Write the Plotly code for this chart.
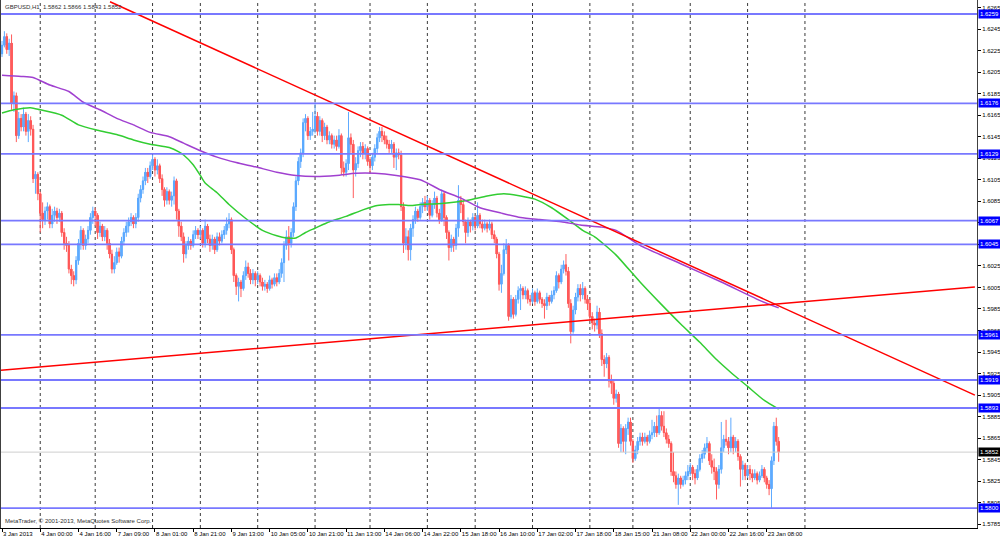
import plotly.graph_objects as go

# GBPUSD H1, 3 Jan 2013 08:00 -> 23 Jan 2013 09:00 (bar index 0..325)
# prices are stored in pips, 16230 -> 1.6230

first_open = 16222

close_pips = [
    16230, 16238, 16226, 16232, 16176, 16183, 16146, 16162, 16154, 16166,
    16150, 16160, 16152, 16106, 16110, 16092, 16074, 16068, 16076, 16080,
    16064, 16072, 16076, 16070, 16074, 16056, 16046, 16044, 16022, 16016,
    16012, 16030, 16046, 16058, 16044, 16050, 16058, 16070, 16076, 16072,
    16056, 16062, 16052, 16058, 16046, 16036, 16022, 16028, 16038, 16034,
    16048, 16056, 16062, 16066, 16070, 16064, 16070, 16088, 16096, 16104,
    16112, 16108, 16118, 16124, 16114, 16118, 16106, 16096, 16086, 16094,
    16086, 16090, 16104, 16076, 16062, 16052, 16036, 16044, 16048, 16044,
    16054, 16058, 16054, 16058, 16046, 16062, 16050, 16044, 16050, 16040,
    16052, 16048, 16054, 16058, 16064, 16068, 16040, 16016, 16006, 16010,
    16004, 16016, 16024, 16018, 16012, 16018, 16012, 16016, 16010, 16006,
    16008, 16004, 16012, 16008, 16014, 16010, 16018, 16028, 16044, 16052,
    16046, 16056, 16080, 16104, 16122, 16130, 16158, 16162, 16146, 16150,
    16152, 16164, 16150, 16160, 16146, 16154, 16142, 16146, 16138, 16142,
    16136, 16146, 16116, 16112, 16120, 16144, 16138, 16114, 16120, 16132,
    16136, 16130, 16134, 16122, 16118, 16126, 16134, 16144, 16150, 16146,
    16142, 16138, 16134, 16138, 16126, 16130, 16128, 16080, 16046, 16052,
    16040, 16060, 16068, 16076, 16070, 16080, 16084, 16080, 16086, 16072,
    16082, 16088, 16074, 16068, 16092, 16070, 16056, 16042, 16050, 16044,
    16060, 16086, 16082, 16066, 16056, 16066, 16062, 16070, 16062, 16072,
    16064, 16060, 16064, 16060, 16064, 16054, 16050, 16036, 16008, 16018,
    16040, 16044, 15978, 15994, 15980, 15994, 16002, 16004, 15998, 16002,
    15994, 15992, 16000, 15992, 16000, 15994, 15990, 15988, 15996, 15992,
    15998, 16002, 16016, 16010, 16022, 16026, 16020, 15990, 15964, 15984,
    15996, 16004, 15998, 16004, 15994, 15990, 15978, 15972, 15970, 15982,
    15962, 15938, 15934, 15940, 15918, 15916, 15902, 15906, 15860, 15874,
    15862, 15874, 15880, 15862, 15846, 15854, 15862, 15866, 15862, 15866,
    15862, 15868, 15870, 15876, 15870, 15886, 15876, 15870, 15864, 15860,
    15834, 15830, 15822, 15828, 15822, 15826, 15830, 15834, 15838, 15832,
    15828, 15836, 15846, 15850, 15856, 15860, 15844, 15838, 15834, 15822,
    15836, 15856, 15864, 15862, 15856, 15866, 15856, 15862, 15848, 15836,
    15840, 15830, 15836, 15832, 15828, 15832, 15826, 15830, 15836, 15828,
    15822, 15818, 15844, 15876, 15862, 15852,
]

high_pips = [
    16234, 16243, 16241, 16236, 16240, 16187, 16186, 16168, 16166, 16172,
    16168, 16166, 16164, 16156, 16113, 16112, 16094, 16084, 16080, 16084,
    16082, 16078, 16080, 16079, 16078, 16076, 16060, 16052, 16048, 16026,
    16020, 16034, 16050, 16062, 16060, 16054, 16062, 16074, 16080, 16079,
    16074, 16066, 16064, 16062, 16060, 16050, 16040, 16034, 16042, 16042,
    16052, 16060, 16066, 16070, 16074, 16072, 16074, 16092, 16100, 16108,
    16116, 16116, 16122, 16128, 16126, 16124, 16120, 16110, 16098, 16098,
    16096, 16094, 16108, 16106, 16078, 16066, 16056, 16048, 16052, 16050,
    16058, 16062, 16060, 16062, 16060, 16068, 16064, 16054, 16054, 16052,
    16056, 16056, 16058, 16062, 16070, 16074, 16070, 16042, 16018, 16014,
    16012, 16020, 16030, 16028, 16022, 16022, 16020, 16020, 16018, 16014,
    16012, 16010, 16016, 16014, 16018, 16018, 16022, 16032, 16048, 16058,
    16062, 16060, 16084, 16108, 16126, 16134, 16162, 16166, 16164, 16154,
    16168, 16177, 16168, 16164, 16162, 16158, 16156, 16150, 16148, 16146,
    16146, 16152, 16148, 16122, 16124, 16168, 16148, 16142, 16126, 16136,
    16140, 16140, 16138, 16136, 16126, 16130, 16138, 16148, 16154, 16154,
    16150, 16146, 16142, 16142, 16140, 16134, 16134, 16132, 16084, 16060,
    16058, 16064, 16072, 16080, 16078, 16084, 16088, 16090, 16090, 16088,
    16086, 16094, 16090, 16078, 16096, 16094, 16072, 16058, 16054, 16052,
    16064, 16100, 16090, 16086, 16068, 16070, 16068, 16074, 16072, 16084,
    16074, 16068, 16068, 16066, 16068, 16066, 16058, 16052, 16038, 16026,
    16046, 16050, 16046, 15998, 15996, 15998, 16006, 16008, 16006, 16006,
    16004, 15998, 16004, 16002, 16004, 16002, 15996, 15994, 16000, 15998,
    16002, 16006, 16020, 16018, 16026, 16030, 16036, 16024, 15994, 15988,
    16000, 16008, 16008, 16010, 16006, 15998, 15994, 15982, 15976, 15988,
    15986, 15966, 15942, 15944, 15942, 15924, 15918, 15910, 15908, 15878,
    15876, 15878, 15884, 15884, 15864, 15858, 15866, 15870, 15870, 15870,
    15868, 15872, 15882, 15880, 15886, 15892, 15890, 15890, 15874, 15868,
    15862, 15852, 15834, 15832, 15830, 15830, 15834, 15840, 15842, 15840,
    15836, 15840, 15850, 15854, 15860, 15866, 15862, 15850, 15846, 15838,
    15840, 15880, 15868, 15882, 15866, 15884, 15868, 15866, 15864, 15850,
    15844, 15842, 15840, 15840, 15836, 15836, 15834, 15834, 15840, 15838,
    15830, 15826, 15848, 15880, 15884, 15866,
]

low_pips = [
    16219, 16228, 16222, 16220, 16170, 16168, 16140, 16143, 16150, 16150,
    16146, 16140, 16146, 16102, 16092, 16086, 16056, 16060, 16063, 16068,
    16060, 16060, 16066, 16064, 16066, 16052, 16040, 16038, 16018, 16008,
    16006, 16008, 16026, 16040, 16040, 16040, 16046, 16054, 16064, 16062,
    16050, 16052, 16048, 16048, 16040, 16032, 16018, 16018, 16026, 16028,
    16032, 16044, 16052, 16056, 16062, 16060, 16060, 16066, 16084, 16092,
    16100, 16102, 16106, 16114, 16108, 16110, 16102, 16090, 16080, 16082,
    16082, 16080, 16082, 16068, 16052, 16048, 16028, 16032, 16040, 16040,
    16042, 16050, 16050, 16050, 16042, 16042, 16046, 16038, 16040, 16036,
    16038, 16044, 16046, 16050, 16054, 16060, 16036, 16010, 15998, 15992,
    15996, 16002, 16012, 16014, 16008, 16008, 16006, 16008, 16006, 16002,
    16002, 16000, 16002, 16004, 16006, 16006, 16008, 16014, 16010, 16040,
    16030, 16042, 16052, 16076, 16100, 16116, 16126, 16150, 16142, 16142,
    16146, 16148, 16146, 16146, 16140, 16142, 16138, 16138, 16134, 16134,
    16132, 16134, 16110, 16108, 16108, 16114, 16130, 16088, 16108, 16116,
    16126, 16124, 16124, 16118, 16112, 16114, 16122, 16130, 16140, 16140,
    16138, 16134, 16130, 16130, 16116, 16114, 16124, 16076, 16037, 16040,
    16030, 16030, 16052, 16064, 16066, 16068, 16074, 16076, 16076, 16068,
    16070, 16078, 16070, 16064, 16066, 16062, 16050, 16030, 16038, 16038,
    16040, 16052, 16074, 16062, 16046, 16052, 16056, 16058, 16058, 16060,
    16060, 16056, 16058, 16056, 16058, 16050, 16046, 16032, 16002, 16000,
    16016, 16036, 15974, 15976, 15976, 15978, 15990, 15984, 15994, 15994,
    15990, 15988, 15990, 15988, 15990, 15990, 15986, 15976, 15984, 15988,
    15990, 15994, 16000, 16004, 16008, 16018, 16016, 15986, 15953, 15962,
    15980, 15992, 15992, 15994, 15990, 15984, 15974, 15966, 15964, 15966,
    15958, 15932, 15922, 15930, 15912, 15906, 15896, 15898, 15856, 15852,
    15852, 15850, 15868, 15858, 15842, 15844, 15850, 15858, 15858, 15860,
    15858, 15860, 15864, 15866, 15866, 15868, 15872, 15866, 15860, 15856,
    15830, 15824, 15818, 15803, 15818, 15820, 15822, 15826, 15830, 15826,
    15822, 15826, 15834, 15842, 15846, 15852, 15840, 15832, 15826, 15808,
    15818, 15832, 15852, 15858, 15850, 15852, 15850, 15852, 15844, 15820,
    15826, 15826, 15828, 15826, 15824, 15826, 15822, 15824, 15828, 15824,
    15818, 15812, 15800, 15840, 15858, 15843,
]

# moving averages (bar index, pips)
slow_ma_bars = [0, 8, 13, 20, 28, 34, 41, 48, 55, 62, 70, 76, 83, 90, 98, 106,
                115, 123, 131, 140, 148, 156, 165, 175, 184, 192, 200, 209,
                217, 225, 234, 242, 251, 257, 267, 284, 301, 318, 325]
slow_ma_pips = [16202, 16201, 16200, 16193, 16187, 16177, 16170, 16162, 16156,
                16149, 16145, 16139, 16132, 16126, 16121, 16117, 16112, 16109,
                16108, 16109, 16111, 16111, 16109, 16105, 16095, 16088, 16079,
                16074, 16070, 16068, 16066, 16063, 16061, 16058, 16044, 16027,
                16010, 15992, 15986]

fast_ma_bars = [0, 5, 12, 16, 25, 32, 40, 48, 55, 62, 70, 74, 76, 80, 83, 85,
                90, 95, 102, 109, 115, 119, 123, 127, 131, 137, 144, 151, 157,
                162, 166, 171, 175, 184, 195, 203, 210, 217, 223, 230, 237, 243,
                248, 253, 257, 267, 276, 284, 292, 299, 305, 312, 319, 325]
fast_ma_pips = [16167, 16170, 16172, 16170, 16165, 16156, 16151, 16147, 16142,
                16138, 16135, 16131, 16128, 16119, 16109, 16102, 16093, 16082,
                16069, 16058, 16053, 16051, 16051, 16056, 16060, 16066, 16071,
                16077, 16081, 16082, 16082, 16081, 16082, 16083, 16086, 16090,
                16092, 16090, 16087, 16079, 16068, 16058, 16052, 16043, 16035,
                16010, 15989, 15971, 15954, 15938, 15926, 15913, 15900, 15892]

# trend lines (two anchors each)
trend_down_bars = [45.2, 407.1]
trend_down_prices = [1.62704, 1.59050]
trend_up_bars = [-0.42, 407.1]
trend_up_prices = [1.59280, 1.60054]

levels = [1.6259, 1.6176, 1.6129, 1.6067, 1.6045, 1.5961, 1.5919, 1.5893, 1.5800]
bid = 1.5852

day_start_bars = [16, 39, 63, 83, 107, 131, 154, 178, 198, 222, 246, 264, 288, 312, 336]

time_labels = ["3 Jan 2013", "4 Jan 00:00", "4 Jan 16:00", "7 Jan 09:00",
               "8 Jan 01:00", "8 Jan 21:00", "9 Jan 13:00", "10 Jan 05:00",
               "10 Jan 21:00", "11 Jan 13:00", "14 Jan 06:00", "14 Jan 22:00",
               "15 Jan 18:00", "16 Jan 10:00", "17 Jan 02:00", "17 Jan 18:00",
               "18 Jan 15:00", "21 Jan 08:00", "22 Jan 00:00", "22 Jan 16:00",
               "23 Jan 08:00"]
time_label_bars = [16 * k for k in range(len(time_labels))]

price_ticks = [round(1.5785 + 0.002 * k, 4) for k in range(25)]


def p(v):
    return v / 10000.0


closes = [p(v) for v in close_pips]
opens = [p(first_open)] + closes[:-1]
highs = [max(p(h), o, c) for h, o, c in zip(high_pips, opens, closes)]
lows = [min(p(l), o, c) for l, o, c in zip(low_pips, opens, closes)]
bars = list(range(len(closes)))

body_base = [min(o, c) for o, c in zip(opens, closes)]
body_size = [max(abs(c - o), 0.00009) for o, c in zip(opens, closes)]

FONT = "Liberation Sans"
BULL = "#1e90ff"
BEAR = "#ff0000"
body_colors = [BULL if c >= o else BEAR for o, c in zip(opens, closes)]

fig = go.Figure()

for d in day_start_bars:
    fig.add_vline(x=d, line=dict(color="#3a3a3a", width=1, dash="dot"), layer="below")

# wicks (lighter, thin) then solid bodies
fig.add_trace(go.Candlestick(
    x=bars, open=opens, high=highs, low=lows, close=closes,
    increasing=dict(line=dict(color="#5eaaff", width=1), fillcolor="#5eaaff"),
    decreasing=dict(line=dict(color="#ff5c5c", width=1), fillcolor="#ff5c5c"),
    whiskerwidth=0, showlegend=False, hoverinfo="skip",
))
fig.add_trace(go.Bar(
    x=bars, y=body_size, base=body_base, width=0.88,
    marker=dict(color=body_colors, line=dict(width=0)),
    showlegend=False, hoverinfo="skip",
))

fig.add_trace(go.Scatter(
    x=fast_ma_bars, y=[p(v) for v in fast_ma_pips], mode="lines",
    line=dict(color="#32cd32", width=1.5, shape="spline", smoothing=0.6),
    showlegend=False, hoverinfo="skip",
))
fig.add_trace(go.Scatter(
    x=slow_ma_bars, y=[p(v) for v in slow_ma_pips], mode="lines",
    line=dict(color="#a040d0", width=1.5, shape="spline", smoothing=0.6),
    showlegend=False, hoverinfo="skip",
))

for lv in levels:
    fig.add_hline(y=lv, line=dict(color="#7878ff", width=1.8))
fig.add_hline(y=bid, line=dict(color="#cfcfcf", width=1))

fig.add_trace(go.Scatter(
    x=trend_down_bars, y=trend_down_prices, mode="lines",
    line=dict(color="#ff0000", width=1.5), showlegend=False, hoverinfo="skip",
))
fig.add_trace(go.Scatter(
    x=trend_up_bars, y=trend_up_prices, mode="lines",
    line=dict(color="#ff0000", width=1.5), showlegend=False, hoverinfo="skip",
))

# price labels on the right scale
for lv in levels:
    fig.add_annotation(
        xref="paper", x=1, xanchor="left", xshift=1, yref="y", y=lv,
        text=f"{lv:.4f}", showarrow=False, bgcolor="#0000ff", borderpad=1,
        font=dict(family=FONT, size=6, color="white"),
    )
fig.add_annotation(
    xref="paper", x=1, xanchor="left", xshift=1, yref="y", y=bid,
    text=f"{bid:.4f}", showarrow=False, bgcolor="#000000", borderpad=1,
    font=dict(family=FONT, size=6, color="white"),
)

fig.add_annotation(
    xref="paper", yref="paper", x=0.002, y=0.997, xanchor="left", yanchor="top",
    text="GBPUSD,H1  1.5862 1.5866 1.5843 1.5852", showarrow=False,
    font=dict(family=FONT, size=6, color="#303030"),
)
fig.add_annotation(
    xref="paper", yref="paper", x=0.002, y=0.004, xanchor="left", yanchor="bottom",
    text="MetaTrader, © 2001-2013, MetaQuotes Software Corp.", showarrow=False,
    font=dict(family=FONT, size=6, color="#303030"),
)

fig.update_layout(
    width=1000, height=541,
    margin=dict(l=1, r=23, t=0, b=13),
    paper_bgcolor="white", plot_bgcolor="white",
    font=dict(family=FONT, size=6, color="black"),
    showlegend=False, barmode="overlay",
    xaxis=dict(
        range=[-0.42, 408.0], rangeslider=dict(visible=False),
        tickvals=time_label_bars, ticktext=time_labels, tickangle=0,
        ticks="outside", ticklen=3, tickcolor="black",
        ticklabelposition="outside right",
        showgrid=False, zeroline=False, showline=True, linecolor="black", linewidth=1,
        tickfont=dict(family=FONT, size=6, color="black"),
    ),
    yaxis=dict(
        side="right", range=[1.57815, 1.62720],
        tickvals=price_ticks, ticktext=[f"{t:.4f}" for t in price_ticks],
        ticks="outside", ticklen=3, tickcolor="black",
        showgrid=False, zeroline=False, showline=True, linecolor="#404040",
        linewidth=1, mirror=True,
        tickfont=dict(family=FONT, size=6, color="black"),
    ),
)

# the page body has a default 8px margin; remove it so the chart fills the window
fig.write_html("out.html", config={"displayModeBar": False},
               post_script="document.body.style.margin='0';")
